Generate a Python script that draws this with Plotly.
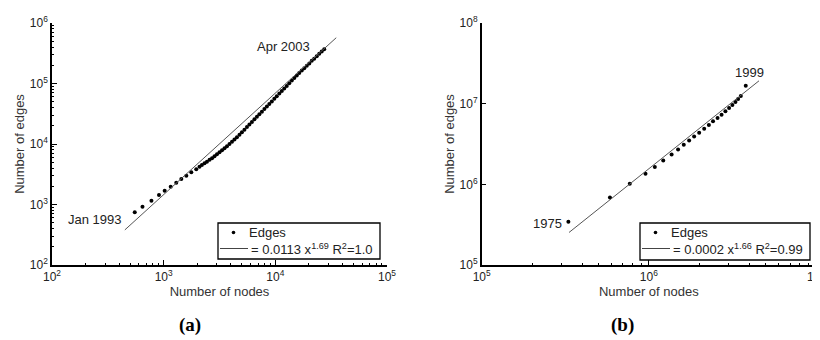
import plotly.graph_objects as go

# ---------------- data: panel (a) ----------------
a_nodes = [551, 646, 777, 908, 1021, 1156, 1297, 1439, 1596, 1768, 1958,
           2094, 2200, 2321, 2440, 2575, 2710, 2852, 3000, 3162, 3330, 3506,
           3690, 3884, 4090, 4305, 4530, 4775, 5020, 5287, 5570, 5861, 6170,
           6500, 6840, 7194, 7580, 7980, 8400, 8830, 9300, 9795, 10300, 10860,
           11430, 12020, 12660, 13330, 14050, 14790, 15560, 16370, 17250,
           18160, 19130, 20140, 21190, 22280, 23480, 24720, 26020, 27390]
a_edges = [743, 920, 1156, 1435, 1690, 1968, 2291, 2636, 2990, 3404, 3819,
           4217, 4477, 4808, 5093, 5470, 5821, 6266, 6745, 7295, 7852, 8492,
           9141, 9954, 10890, 11860, 12940, 14160, 15600, 17180, 19010, 20940,
           23070, 25530, 28120, 30970, 34280, 37760, 41590, 45920, 50580,
           55980, 61660, 68230, 75160, 82790, 91200, 100900, 111700, 123000,
           135500, 149600, 163700, 178200, 197200, 214800, 236600, 257600,
           283100, 309700, 338100, 369000]
a_fit_x = [449, 35100]
a_fit_y = [380, 571000]
a_series_label = "Edges"
a_fit_label = "= 0.0113 x<sup>1.69</sup> R<sup>2</sup>=1.0"

# ---------------- data: panel (b) ----------------
b_nodes = [330e3, 585e3, 769e3, 955e3, 1.086e6, 1.219e6, 1.368e6, 1.496e6,
           1.618e6, 1.742e6, 1.866e6, 2.0e6, 2.143e6, 2.286e6, 2.421e6,
           2.576e6, 2.723e6, 2.871e6, 3.02e6, 3.16e6, 3.296e6, 3.42e6,
           3.55e6, 3.8e6]
b_edges = [343e3, 685e3, 1.02e6, 1.355e6, 1.637e6, 1.977e6, 2.344e6, 2.704e6,
           3.09e6, 3.49e6, 3.92e6, 4.345e6, 4.875e6, 5.458e6, 6.04e6, 6.65e6,
           7.31e6, 8.04e6, 8.85e6, 9.64e6, 10.5e6, 11.43e6, 12.45e6, 16.7e6]
b_fit_x = [333e3, 4.56e6]
b_fit_y = [253e3, 19.2e6]
b_series_label = "Edges"
b_fit_label = "= 0.0002 x<sup>1.66</sup> R<sup>2</sup>=0.99"

a_xticks = [1e2, 1e3, 1e4, 1e5]
a_xtext = ["10<sup>2</sup>", "10<sup>3</sup>", "10<sup>4</sup>", "10<sup>5</sup>"]
a_yticks = [1e2, 1e3, 1e4, 1e5, 1e6]
a_ytext = ["10<sup>2</sup>", "10<sup>3</sup>", "10<sup>4</sup>", "10<sup>5</sup>", "10<sup>6</sup>"]
b_xticks = [1e5, 1e6, 1e7]
b_xtext = ["10<sup>5</sup>", "10<sup>6</sup>", "10<sup>7</sup>"]
b_yticks = [1e5, 1e6, 1e7, 1e8]
b_ytext = ["10<sup>5</sup>", "10<sup>6</sup>", "10<sup>7</sup>", "10<sup>8</sup>"]

W, H = 820, 340
OFF = 8  # page body margin in the browser
FONT = "Liberation Sans, Arial, sans-serif"


def px(x):
    return (x - OFF) / W


def py(y):
    return 1 - (y - OFF) / H


def minor_vals(lo, hi):
    return [m * 10 ** e for e in range(lo, hi) for m in range(2, 10)]


fig = go.Figure()

fig.add_trace(go.Scatter(x=a_nodes, y=a_edges, mode="markers", name=a_series_label,
                         marker=dict(color="black", size=4), xaxis="x", yaxis="y"))
fig.add_trace(go.Scatter(x=a_fit_x, y=a_fit_y, mode="lines", name="fit (a)",
                         line=dict(color="#555555", width=1), xaxis="x", yaxis="y"))
fig.add_trace(go.Scatter(x=b_nodes, y=b_edges, mode="markers", name=b_series_label,
                         marker=dict(color="black", size=4), xaxis="x2", yaxis="y2"))
fig.add_trace(go.Scatter(x=b_fit_x, y=b_fit_y, mode="lines", name="fit (b)",
                         line=dict(color="#555555", width=1), xaxis="x2", yaxis="y2"))


def axis(domain, rng, tickvals, ticktext, title, anchor, minor=None):
    d = dict(domain=domain, type="log", range=rng, showline=True, linecolor="black",
             linewidth=1.5, ticks="inside", ticklen=5, tickwidth=1.2, tickcolor="black",
             tickmode="array", tickvals=tickvals, ticktext=ticktext,
             showgrid=False, zeroline=False, automargin=False,
             tickfont=dict(family=FONT, size=12, color="#222"),
             title=dict(text=title, font=dict(family=FONT, size=13, color="#333"),
                        standoff=2),
             anchor=anchor)
    if minor is not None:
        d["minor"] = dict(tickmode="array", tickvals=minor, ticks="inside", ticklen=2.5,
                          tickwidth=1, tickcolor="black", showgrid=False)
    return d


fig.update_layout(
    width=W, height=H, margin=dict(l=0, r=0, t=0, b=0),
    paper_bgcolor="white", plot_bgcolor="white", showlegend=False,
    xaxis=axis([px(52), px(387)], [2, 5], a_xticks, a_xtext, "Number of nodes", "y",
               minor_vals(2, 5)),
    yaxis=axis([py(265), py(23)], [2, 6], a_yticks, a_ytext, "Number of edges", "x",
               minor_vals(2, 6)),
    xaxis2=axis([px(481.7), px(816)], [5, 7], b_xticks, b_xtext, "Number of nodes", "y2",
                minor_vals(5, 7)),
    yaxis2=axis([py(265), py(23)], [5, 8], b_yticks, b_ytext, "Number of edges", "x2"),
)

# ---- legend boxes (drawn as shapes + text) ----
leg_font = dict(family=FONT, size=13, color="#222")
for (x0, x1, y0, y1, series_label, fit_label) in [
        (218, 380, 223, 259, a_series_label, a_fit_label),
        (640, 810, 223, 260, b_series_label, b_fit_label)]:
    fig.add_shape(type="rect", xref="paper", yref="paper",
                  x0=px(x0), x1=px(x1), y0=py(y1), y1=py(y0),
                  line=dict(color="black", width=1.3), fillcolor="white", layer="above")
    dot_x, dot_y = x0 + 15.5, y0 + 9.5
    fig.add_shape(type="circle", xref="paper", yref="paper",
                  x0=px(dot_x - 1.8), x1=px(dot_x + 1.8), y0=py(dot_y + 1.8),
                  y1=py(dot_y - 1.8), line=dict(color="black", width=0),
                  fillcolor="black", layer="above")
    fig.add_annotation(text=series_label, x=px(x0 + 28.5), y=py(dot_y), xref="paper",
                       yref="paper", showarrow=False, font=leg_font,
                       xanchor="left", yanchor="middle")
    line_y = y0 + 25.5
    fig.add_shape(type="line", xref="paper", yref="paper",
                  x0=px(x0 + 2), x1=px(x0 + 30), y0=py(line_y), y1=py(line_y),
                  line=dict(color="#444444", width=1), layer="above")
    fig.add_annotation(text=fit_label, x=px(x0 + 31), y=py(line_y), xref="paper",
                       yref="paper", showarrow=False, font=leg_font,
                       xanchor="left", yanchor="middle")

ann_font = dict(family=FONT, size=13, color="#222")
labels = [("Apr 2003", 283, 46), ("Jan 1993", 95, 219), ("1975", 547, 223), ("1999", 749, 72)]
for txt, x, y in labels:
    fig.add_annotation(text=txt, x=px(x), y=py(y), xref="paper", yref="paper",
                       showarrow=False, font=ann_font, xanchor="center", yanchor="middle")

for txt, x in [("(a)", 190), ("(b)", 622)]:
    fig.add_annotation(text="<b>" + txt + "</b>", x=px(x), y=py(325), xref="paper",
                       yref="paper", showarrow=False,
                       font=dict(family="Liberation Serif, Times New Roman, serif",
                                 size=19, color="black"),
                       xanchor="center", yanchor="middle")

fig.write_html("out.html")
